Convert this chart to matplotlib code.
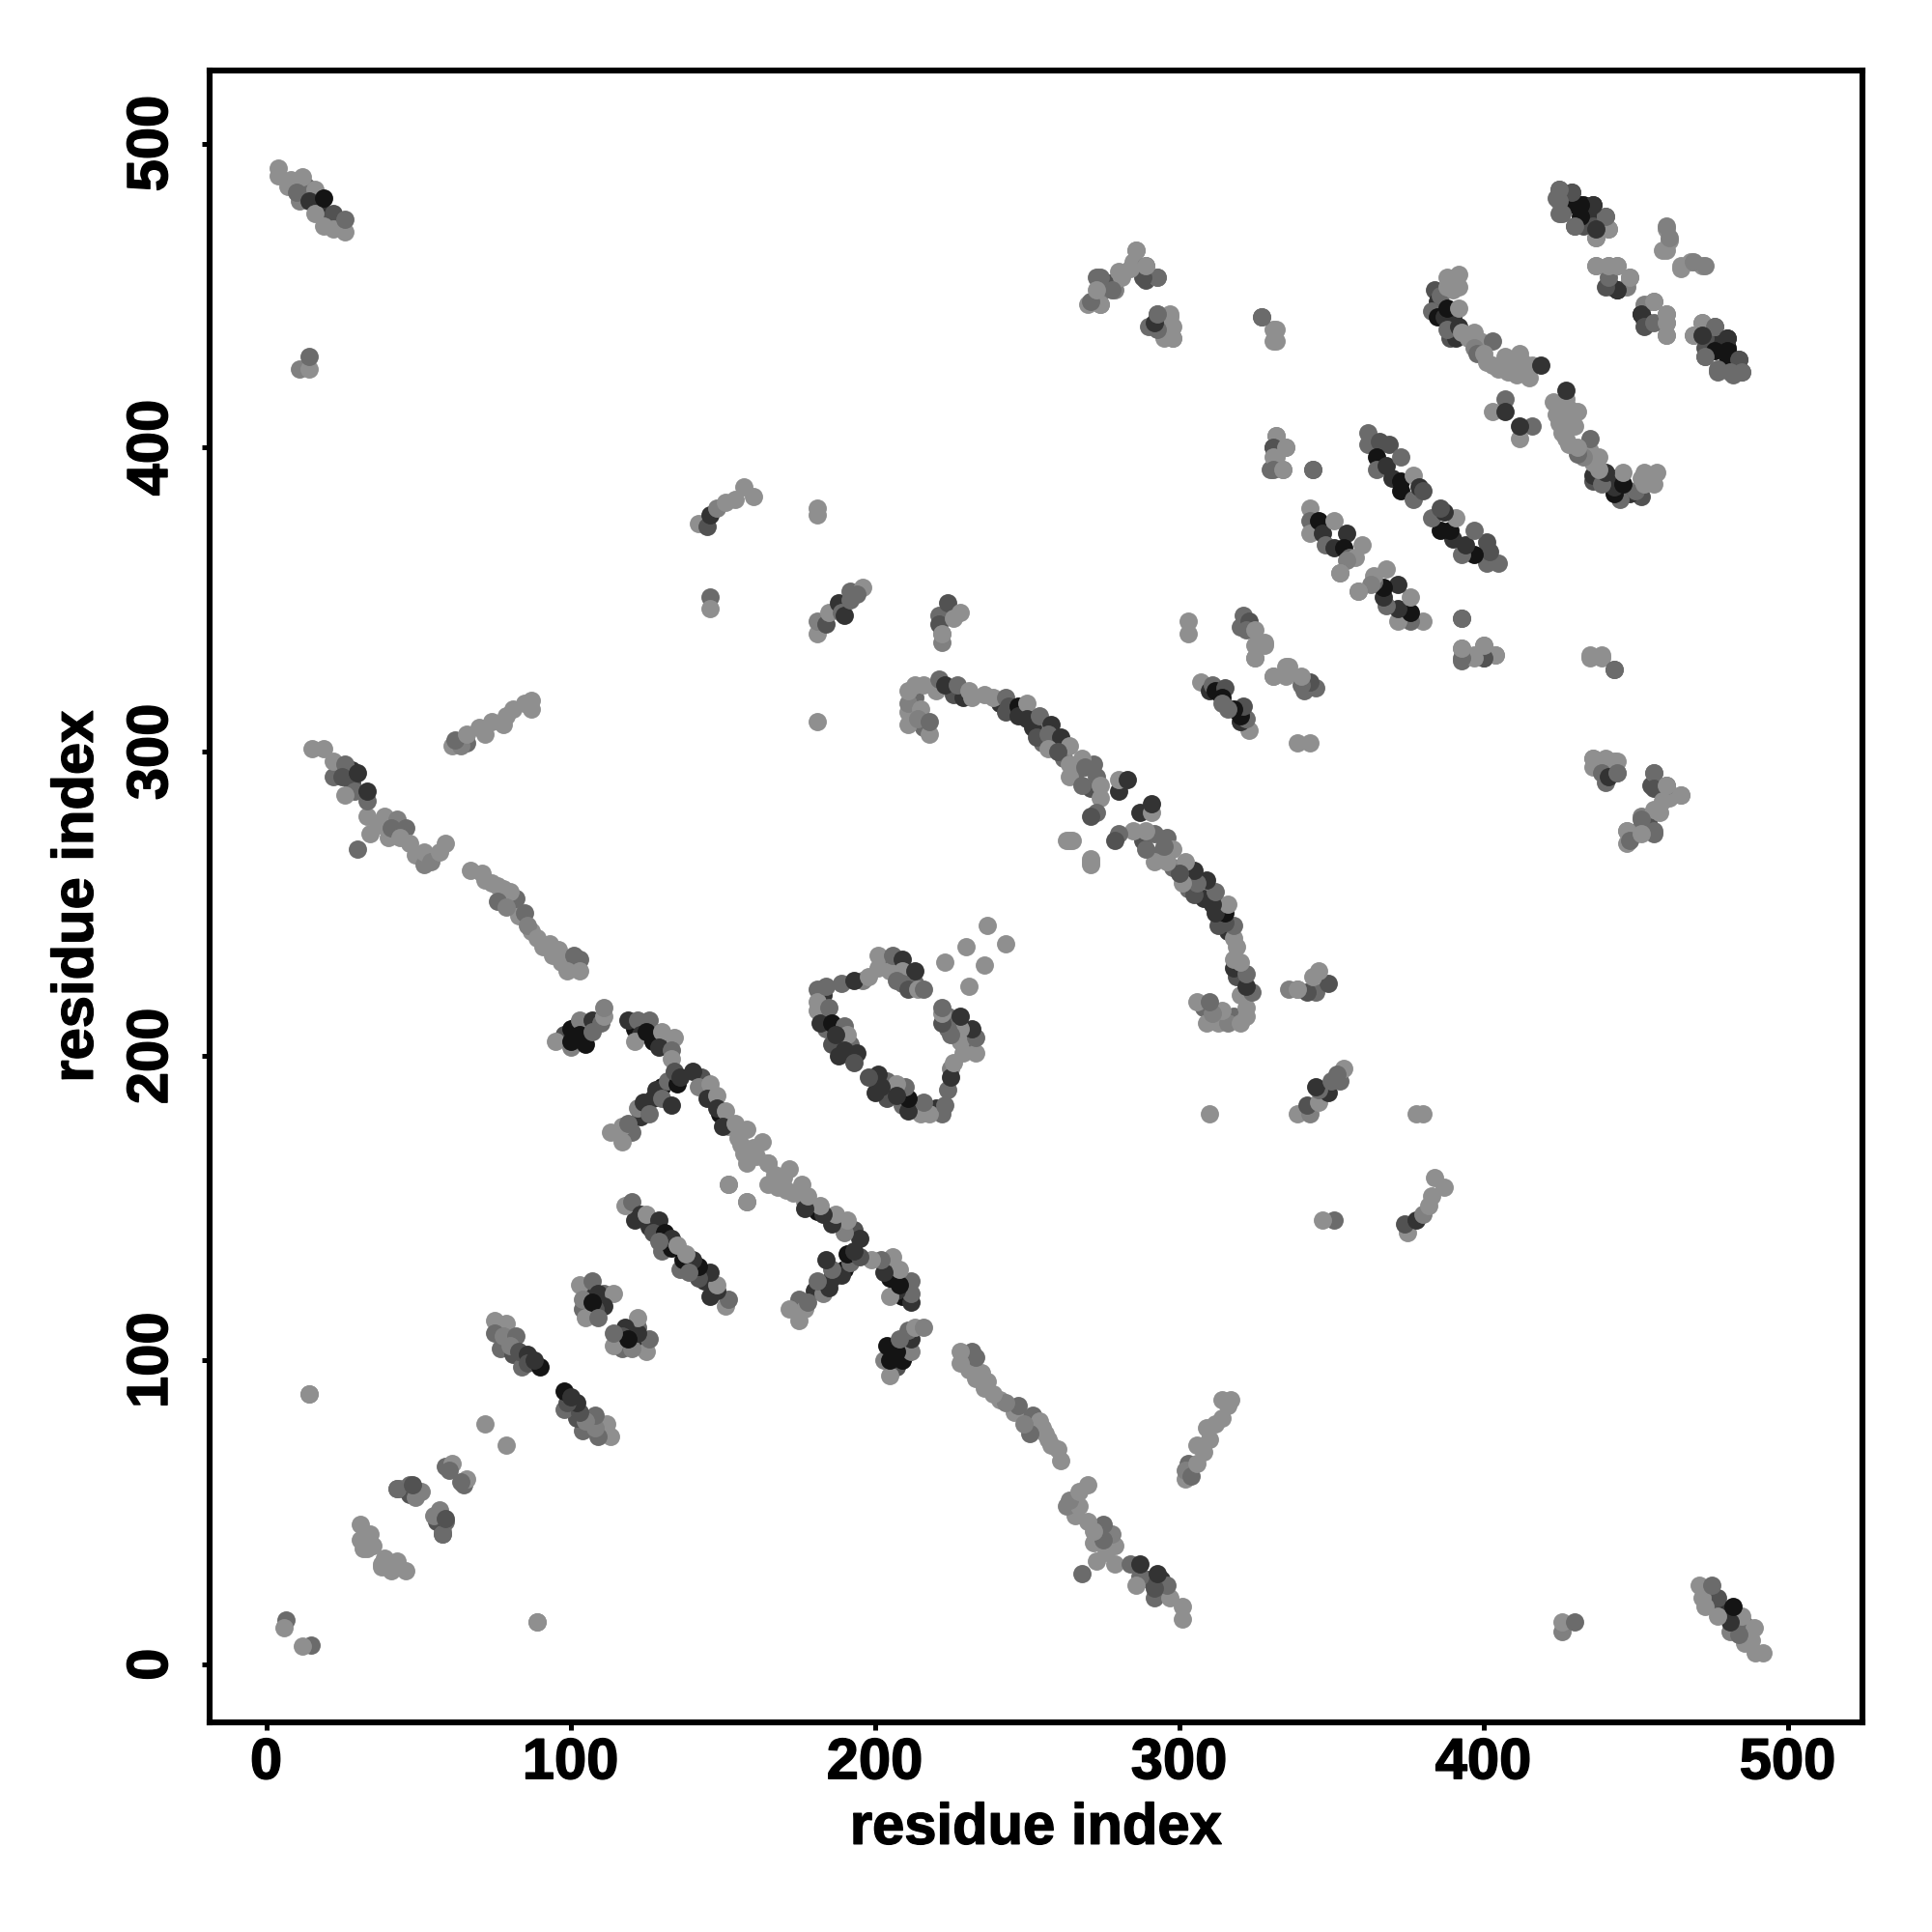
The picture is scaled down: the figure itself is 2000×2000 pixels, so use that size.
import matplotlib
matplotlib.use("Agg")
import matplotlib.pyplot as plt
import matplotlib.patheffects as pe

# contacts as (residue i, residue j, grey level), i < j
# the map is symmetric so each contact gets drawn on both sides of the diagonal
L, P, M, S, D, K = 0.56, 0.50, 0.42, 0.32, 0.20, 0.08

near_ends = [(6.5, 14.6, M), (6, 12, L), (14, 89, L), (72, 79, L), (89, 14, L)]
end_sheet = [(4, 492, L), (4, 489.5, L), (8, 488, L), (12, 489, L), (10, 484, M), (16, 485, L),
             (14, 481, D), (22, 477, S), (16, 477, L), (19, 482, K), (19, 473, L), (22, 472, L),
             (26, 471, L), (26, 475, M), (11, 426, P), (14, 426, L), (14, 430, M)]
first_anti = [(15, 301, L), (19, 301, L), (22, 297, L), (26, 286, L), (26, 296, M), (25, 292, S),
              (30, 293, D), (33, 279, L), (33, 284, M), (33, 287, D), (30, 268, M), (34, 273, L),
              (39, 279, L), (43, 278, P), (41, 275, M), (46, 275, M), (44, 272, L), (47, 270, L),
              (52, 263, P), (52, 267, L), (54, 264, P), (57, 267, L), (59, 270, L)]
second_anti = [(67, 261, L), (71, 260, L), (74, 257, L), (78, 255, L), (80, 254, L), (76, 251, M),
               (79, 249, P), (85, 247, M), (86, 243, P), (89, 239, L), (93, 237, L), (96, 235, L),
               (97, 231, L), (101, 233, M), (103, 232, M), (99, 228, L), (103, 228, L)]
dark_patch = [(95, 205, L), (100, 203, P), (100, 209, K), (100, 205, K), (103, 212, P), (103, 207, K),
              (105, 204, K), (107, 212, D), (107, 208, M), (110, 211, M), (111, 213, L), (111, 216, P)]
hook_top = [(119, 212, D), (122, 212, M), (126, 212, M), (123, 207, D), (121, 205, L), (127, 205, K),
            (125, 208, K), (130, 208, L), (129, 203, D), (134, 206, L), (133, 202, M), (133, 199, L)]
arm_left = [(113, 175, L), (117, 172, L), (117, 177, L), (119, 178, M), (122, 183, P), (124, 185, D),
            (126, 181, M), (128, 189, D), (130, 186, M), (133, 184, D), (132, 192, M), (135, 191, K),
            (134, 195, S), (136, 193, D)]
arm_right = [(140, 195, D), (142, 190, P), (146, 191, L), (145, 186, D), (148, 187, L), (148, 183, D),
             (151, 182, L), (150, 177, D), (154, 178, L), (155, 173, L), (158, 176, L), (160, 170, L),
             (163, 172, L), (158, 165, L), (152, 158, L), (158, 152, L)]
sheet_a = [(31, 46, L), (31, 41, L), (34, 43, L), (35, 39, L), (33, 38, L), (38, 32, L),
           (41, 33, L), (44, 58, P), (47, 59, M), (47, 56, S), (51, 57, P), (43, 58, P),
           (49, 55, P), (59, 65, M), (61, 66, L), (60, 64, M), (58, 43, M), (59, 48, S)]
sheet_b = [(75, 113, L), (79, 112, L), (75, 109, M), (78, 108, P), (82, 108, M), (80, 105, P),
           (83, 103, S), (86, 102, D), (86, 99, S), (90, 98, K), (88, 100, D)]
sheet_c = [(103, 125, L), (107, 126, M), (104, 120, P), (109, 122, D), (114, 122, L), (111, 118, D),
           (108, 117, S), (105, 114, L), (107, 119, K), (109, 114, M)]
sheet_d = [(118, 151, L), (120, 152, M), (123, 148, D), (125, 148, L), (129, 146, D), (127, 142, S),
           (131, 142, K), (133, 140, D), (135, 138, L), (129, 139, M)]
strand_69 = [(61, 302, L), (64, 302, P), (62, 304, M), (66, 306, L), (70, 308, L), (74, 310, L),
             (78, 309, L), (79, 312, L), (81, 314, L), (85, 316, L), (87, 317, L), (87, 314, L)]
strand_150 = [(142, 375, L), (145, 374, S), (146, 378, D), (148, 380, P), (151, 382, L), (154, 383, L),
              (157, 387, L), (160, 384, L), (146, 351, M), (146, 347, L), (181, 380, L), (181, 378, L),
              (181, 310, L)]
strand_185 = [(181, 339, L), (181, 343, P), (184, 342, S), (185, 346, L), (188, 349, D), (189, 346, M),
              (190, 345, D), (192, 350, M), (192, 353, M), (196, 354, L), (194, 352, M)]
strand_225 = [(221, 345, M), (222, 339, L), (221, 342, S), (224, 349, S), (226, 344, L), (228, 346, L),
              (222, 336, P), (339, 222, L)]
loop_left = [(181, 222, M), (181, 218, L), (181, 215, L), (182, 211, D), (185, 216, M), (184, 223, M),
             (186, 211, K), (190, 210, M), (191, 207, L), (187, 207, D), (189, 224, M), (190, 202, D),
             (194, 201, D), (193, 198, S), (193, 225, D), (198, 226, L), (201, 229, L), (201, 233, L),
             (205, 228, L), (206, 233, M), (209, 232, D), (209, 228, L), (207, 225, M), (213, 228, D),
             (209, 224, M), (211, 222, S), (214, 222, L), (216, 222, M), (223, 231, L), (230, 236, L),
             (237, 243, L)]
arc_left = [(211, 309, L), (211, 313, L), (211, 316, P), (211, 320, L), (213, 322, L), (216, 322, L),
            (215, 314, L), (214, 311, P), (218, 306, L), (218, 310, M), (221, 324, M), (223, 322, D),
            (227, 322, M), (231, 320, L), (232, 318, L), (236, 319, L), (239, 318, L), (243, 318, M)]
arc_mid = [(244, 315, S), (247, 315, K), (247, 312, D), (250, 316, L), (250, 311, D), (254, 312, M),
           (258, 309, D), (253, 305, S), (257, 306, M), (261, 305, D), (257, 301, L), (264, 302, L),
           (260, 300, S), (268, 298, L), (264, 296, L), (264, 292, L), (269, 295, M), (268, 289, M),
           (273, 292, M), (274, 289, L), (274, 285, L), (273, 280, M), (271, 279, S), (280, 287, D),
           (280, 291, L), (283, 291, D), (265, 271, L), (263, 271, L), (271, 264, L)]
pair_305 = [(303, 343, L), (303, 339, L), (307, 323, L), (310, 320, D), (311, 322, M), (312, 320, K),
            (315, 321, S), (314, 318, K), (316, 314, M), (320, 341, M), (321, 345, M), (323, 343, S),
            (322, 340, M), (325, 340, L), (325, 335, L), (328, 335, L), (325, 331, L),
            (331, 325, L), (336, 328, L)]
sheet_345 = [(343, 380, L), (343, 376, M), (343, 372, L), (346, 376, K), (347, 372, D), (351, 376, L),
             (348, 368, M), (351, 367, D), (355, 372, D), (354, 367, K), (356, 364, M), (358, 364, L),
             (360, 368, L), (355, 363, P), (353, 359, L), (359, 353, L)]
sheet_365 = [(362, 405, M), (362, 401, M), (366, 402, S), (369, 401, S), (365, 397, K), (365, 393, M),
             (368, 394, D), (373, 397, M), (370, 390, D), (373, 389, K), (373, 386, K), (377, 391, L),
             (377, 383, M), (379, 387, D), (380, 386, S)]
block_395 = [(393, 344, M), (393, 334, L), (400, 335, L), (404, 332, L), (397, 332, L), (400, 331, S),
             (393, 330, M), (435, 331, L), (439, 331, L), (443, 327, M)]
block_300 = [(270, 447, L), (274, 447, L), (273, 456, M), (274, 451, P), (277, 454, S), (279, 452, P),
             (280, 458, L), (286, 465, L), (285, 461, L), (289, 455, S), (289, 460, M), (293, 456, L),
             (293, 444, L), (290, 440, M), (293, 440, D), (297, 443, L), (298, 440, L), (295, 436, L),
             (298, 436, L), (327, 443, M), (332, 439, L), (332, 435, L)]
block_335 = [(332, 404, L), (331, 400, S), (331, 397, L), (335, 400, L), (331, 393, M), (334, 393, L),
             (344, 393, M)]
curve_top = [(384, 452, S), (385, 448, D), (383, 445, M), (388, 456, L), (392, 457, L), (392, 453, L),
             (385, 443, K), (387, 443, D), (389, 436, S), (390, 443, D), (391, 436, D), (386, 450, M),
             (388, 446, K), (392, 446, L), (388, 439, M), (392, 440, D), (393, 438, L), (388, 453, L),
             (395, 436, L), (397, 438, L), (399, 435, L), (397, 433, P), (398, 431, M), (390, 452, L),
             (403, 435, M), (400, 431, L), (403, 427, L), (401, 428, L), (405, 426, L), (409, 428, L),
             (407, 430, L), (412, 431, L), (408, 425, L), (413, 428, L), (414, 425, L),
             (411, 424, L), (415, 423, L), (416, 427, L), (419, 427, D), (407, 416, M), (403, 412, L),
             (407, 412, D)]
sheet_430 = [(425, 485, M), (429, 484, S), (424, 482, M), (428, 480, K), (433, 480, K), (436, 480, D),
             (425, 477, M), (430, 473, M), (433, 478, K), (433, 473, S), (436, 476, D), (436, 473, S),
             (440, 476, M), (441, 472, L), (437, 469, L), (460, 472, L), (461, 468, L), (459, 465, L),
             (465, 460, L), (469, 461, P), (473, 460, P)]
sheet_445 = [(437, 460, L), (441, 460, L), (444, 460, L), (448, 456, L), (442, 453, S), (444, 452, K),
             (447, 453, P), (452, 444, D), (453, 440, S), (456, 448, L), (456, 441, M), (460, 444, L),
             (460, 441, L), (460, 437, L)]
sheet_475 = [(472, 441, L), (469, 437, L), (476, 440, M), (472, 437, D), (480, 436, D), (480, 432, K),
             (476, 432, K), (473, 430, M), (481, 429, K), (484, 429, S), (477, 426, M), (481, 425, M),
             (485, 425, M)]
patch_440 = [(436, 298, L), (440, 296, L), (444, 297, L), (439, 293, M), (441, 292, D), (444, 293, M),
             (456, 293, M), (456, 288, S), (460, 289, L), (465, 286, L), (459, 284, L), (456, 281, L),
             (452, 278, M), (456, 274, M), (447, 274, L), (448, 271, M), (452, 273, L)]

# residues packed between the ones above, these thicken the strands from underneath
under_ends = [(13, 486, M), (18, 478, D), (21, 474, S), (24, 473, L), (7, 486, L), (11, 481, P)]
under_anti = [(24, 294, M), (22, 292, M), (28, 290, S), (28, 294, D), (29, 287, M), (37, 276, L),
              (40, 272, L), (49, 266, L), (76, 256, L), (81, 251, M), (83, 246, L), (87, 241, L),
              (91, 236, L), (82, 252, M), (72, 258, L), (94, 233, L)]
under_hooks = [(121, 209, K), (124, 210, D), (127, 208, K), (131, 204, S), (120, 175, M), (123, 180, D),
               (127, 186, D), (130, 190, K), (143, 193, S), (146, 188, D), (149, 181, K), (152, 177, L),
               (156, 171, L), (157, 168, L), (161, 167, L), (165, 165, L), (102, 210, D), (98, 207, S),
               (105, 210, M)]
under_sheets = [(77, 104, M), (81, 102, S), (84, 98, M), (104, 117, M), (106, 121, D), (111, 122, M),
                (121, 146, D), (126, 144, D), (130, 136, M), (133, 137, K), (66, 303, M), (72, 306, L)]
under_loop = [(183, 220, D), (183, 214, M), (184, 209, M), (186, 204, S), (188, 200, D), (192, 204, M),
              (204, 231, M), (211, 226, M), (207, 230, S), (213, 224, M), (196, 225, P)]
under_arc = [(213, 318, M), (216, 308, M), (220, 320, L), (226, 319, S), (229, 318, D), (241, 316, D),
             (243, 313, S), (249, 314, D), (252, 308, D), (255, 303, M), (259, 303, K), (262, 298, M),
             (266, 293, M), (271, 288, S), (272, 296, M)]

all_groups = [under_ends, under_anti, under_hooks, under_sheets, under_loop, under_arc,
              near_ends, end_sheet, first_anti, second_anti, dark_patch, hook_top, arm_left, arm_right,
              sheet_a, sheet_b, sheet_c, sheet_d, strand_69, strand_150, strand_185, strand_225,
              loop_left, arc_left, arc_mid, pair_305, sheet_345, sheet_365, block_395, block_300,
              block_335, curve_top, sheet_430, sheet_445, sheet_475, patch_440]

tick_vals = [0, 100, 200, 300, 400, 500]

plt.rcParams["font.family"] = ["Liberation Sans", "DejaVu Sans"]
plt.rcParams["font.weight"] = "bold"

fig = plt.figure(figsize=(20, 20), dpi=100)
ax = fig.add_axes([217 / 2000, 217 / 2000, 1711 / 2000, 1710 / 2000])

for group in all_groups:
    for i, j, grey in group:
        ax.scatter([i, j], [j, i], s=185, color=str(grey), linewidths=0, zorder=2)

ax.set_xlim(-18.6, 524.6)
ax.set_ylim(-19, 524)
ax.set_xticks(tick_vals)
ax.set_yticks(tick_vals)
ax.tick_params(length=6, width=3.6, labelsize=43, pad=5)
ax.tick_params(axis="y", pad=17)
for lab in ax.get_yticklabels():
    lab.set_rotation(90)
    lab.set_va("center")
for side in ax.spines.values():
    side.set_linewidth(4.4)

ax.set_xlabel("residue index", fontsize=43, fontweight="bold", labelpad=9)
ax.set_ylabel("residue index", fontsize=43, fontweight="bold", labelpad=16)

# the original bold face is a bit heavier than Liberation
heavier = [pe.withStroke(linewidth=1.0, foreground="black")]
for txt in ax.get_xticklabels() + ax.get_yticklabels() + [ax.xaxis.label, ax.yaxis.label]:
    txt.set_path_effects(heavier)

fig.savefig("out.png", dpi=100, facecolor="white")
